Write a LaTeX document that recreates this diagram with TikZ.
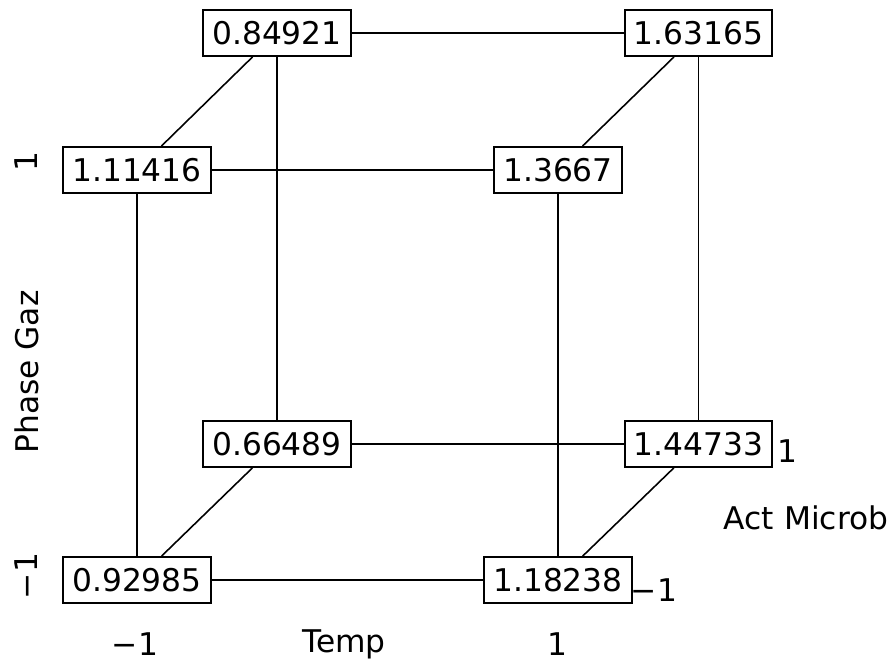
\documentclass[tikz,border=0pt]{standalone}
\usepackage{fontspec}
\setmainfont{DejaVu Sans}
\usepackage{tikz}
\usetikzlibrary{positioning}

\tikzset{
  cellbox/.style={draw, line width=1.1pt, fill=white, inner xsep=0.18cm,
    minimum height=0.92cm, font=\fontsize{17.8pt}{20pt}\selectfont},
  axislabel/.style={font=\fontsize{17.8pt}{20pt}\selectfont},
  edge/.style={line width=0.9pt}
}

\begin{document}
\begin{tikzpicture}
        \useasboundingbox (0,0) rectangle (17.88,13.26);

        % ---- back face ----
        \node[cellbox] (bll) at (5.54, 4.38)  {0.66489};
        \node[cellbox] (blr) at (13.97, 4.38) {1.44733};
        \node[cellbox] (bul) at (5.54, 12.60) {0.84921};
        \node[cellbox] (bur) at (13.97, 12.60) {1.63165};

        % ---- front face ----
        \node[cellbox] (fll) at (2.74, 1.66)  {0.92985};
        \node[cellbox] (flr) at (11.16, 1.66) {1.18238};
        \node[cellbox] (ful) at (2.74, 9.86)  {1.11416};
        \node[cellbox] (fur) at (11.16, 9.86) {1.3667};

        % ---- edges ----
        \draw[edge] (bul) -- (bur);
        \draw[edge] (bul) -- (bll);
        \draw[edge] (bur) -- (blr);
        \draw[edge] (bll) -- (blr);
        \draw[edge] (ful) -- (fur);
        \draw[edge] (ful) -- (fll);
        \draw[edge] (fur) -- (flr);
        \draw[edge] (fll) -- (flr);
        \draw[edge] (bul) -- (ful);
        \draw[edge] (bur) -- (fur);
        \draw[edge] (bll) -- (fll);
        \draw[edge] (blr) -- (flr);

        % ---- axis labels ----
        \node[axislabel] (tmin) at (2.70, 0.38)  {−1};
        \node[axislabel] (temp) at (6.88, 0.38)  {Temp};
        \node[axislabel] (tmax) at (11.14, 0.38) {1};

        \node[axislabel, rotate=90] (pmax) at (0.52, 10.02) {1};
        \node[axislabel, rotate=90] (pgaz) at (0.54, 5.82)  {Phase Gaz};
        \node[axislabel, rotate=90] (pmin) at (0.52, 1.74)  {−1};

        \node[axislabel] (amax) at (15.74, 4.24) {1};
        \node[axislabel] (amin) at (13.08, 1.46) {−1};
        \node[axislabel] (act)  at (16.12, 2.90) {Act Microb};
      \end{tikzpicture}
\end{document}
